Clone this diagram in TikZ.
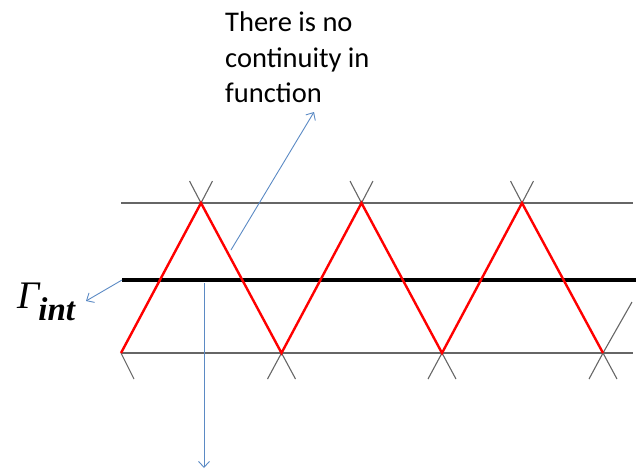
\documentclass[tikz,border=0pt]{standalone}
\usepackage{fontspec}
\newfontfamily\calib{Carlito}
\newfontfamily\gfont{Liberation Serif}
\usetikzlibrary{arrows.meta}
\definecolor{gridgrey}{HTML}{666666}
\definecolor{arrowblue}{HTML}{5B8AC4}

\begin{document}
\begin{tikzpicture}[x=1pt,y=-1pt,
  guide/.style={gridgrey, line width=1.6pt},
  tick/.style={gridgrey, line width=1.1pt},
  zig/.style={red, line width=2.4pt},
  pointer/.style={arrowblue, line width=0.9pt, -{Straight Barb[length=6pt,width=11pt]}}]
\useasboundingbox (0,0) rectangle (636,469);

% Horizontal lines
\draw[guide] (121,203) -- (633,203);
\draw[guide] (121,353) -- (633,353);
\draw[line width=3.6pt] (122,280) -- (636,280);

% Grey continuations at the vertices
\foreach \p in {201,361.5,522} {
  \draw[tick] (\p-11.5,181) -- (\p,203) -- (\p+11.5,181);
}
\foreach \v in {281.5,442,603} {
  \draw[tick] (\v-14,379) -- (\v,353) -- (\v+14,379);
}
\draw[tick] (121,353) -- (134,379);
\draw[tick] (603,353) -- (632,302);

% Red zigzag
\draw[zig] (121,353) -- (201,203) -- (281.5,353) -- (361.5,203)
  -- (442,353) -- (522,203) -- (603,353);

% Labels
\node[font=\gfont\fontsize{39}{42}\selectfont\itshape, anchor=base west, inner sep=0] (gam)
  at (17,308) {Γ\kern-1pt\raisebox{-12pt}{\fontsize{33}{36}\selectfont\bfseries int}};
\node[font=\calib\fontsize{28.5}{35.5}\selectfont, align=left, anchor=north west, inner sep=0] (note)
  at (225,12) {There is no\\continuity in\\function};

% Pointers
\coordinate (ileft) at (122,280);
\coordinate (gtip) at (86,301);
\coordinate (rpt) at (231,250);
\coordinate (ntip) at (314,112);
\coordinate (itop) at (204,283);
\coordinate (ibot) at (204,468);
\draw[pointer] (ileft) -- (gtip);
\draw[pointer] (rpt) -- (ntip);
\draw[pointer] (itop) -- (ibot);

\end{tikzpicture}
\end{document}
